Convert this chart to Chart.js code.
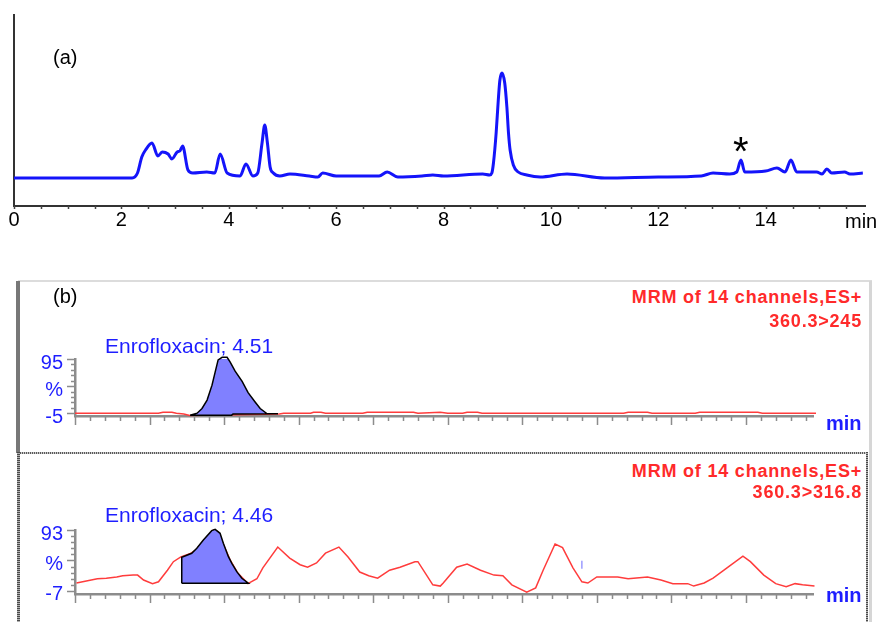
<!DOCTYPE html>
<html>
<head>
<meta charset="utf-8">
<script src="https://cdn.jsdelivr.net/npm/chart.js@4.4.1/dist/chart.umd.min.js"></script>
<style>
  body { margin: 0; background: #fff; }
  #wrap { position: relative; width: 877px; height: 622px; overflow: hidden; font-family: Arial, "Liberation Sans", sans-serif; }
  canvas, .txt, .line { position: absolute; }
  .txt { white-space: nowrap; line-height: 1; }
  .blue { color: #1e1eff; }
  .red { color: #ff2a2a; font-weight: bold; font-size: 18px; letter-spacing: 0.8px; text-align: right; right: 15px; }
  .dotH { height: 2px; background: repeating-linear-gradient(90deg, #5a5a5a 0 1px, #c8c8c8 1px 2px); }
  .dotV { background: repeating-linear-gradient(180deg, #4a4a4a 0 1px, #b0b0b0 1px 2px); }
</style>
</head>
<body>
<div id="wrap">
  <!-- frame of panel (b) -->
  <div class="line" style="left:18px;top:280px;width:854px;height:0;border-top:2px solid #dcdcdc"></div>
  <div class="line" style="left:869px;top:281px;width:3px;height:341px;background:#d6d6d6"></div>
  <div class="line" style="left:16px;top:281px;width:4px;height:172px;background:#777"></div>
  <div class="line dotH" style="left:20px;top:452px;width:848px"></div>
  <div class="line dotV" style="left:17px;top:452px;width:3px;height:170px"></div>
  <div class="line dotV" style="left:866px;top:452px;width:2px;height:170px"></div>

  <canvas id="chartA" width="877" height="245" style="left:0;top:0"></canvas>
  <canvas id="chartB1" width="877" height="110" style="left:0;top:330px"></canvas>
  <canvas id="chartB2" width="877" height="118" style="left:0;top:500px"></canvas>

  <div class="txt" style="left:53px;top:47px;font-size:20px">(a)</div>
  <div class="txt" style="left:733px;top:131px;font-size:40px">*</div>
  <div class="txt" style="left:845px;top:211px;font-size:20px">min</div>

  <div class="txt" style="left:53px;top:286px;font-size:20px">(b)</div>
  <div class="txt blue" style="left:105px;top:335px;font-size:21px">Enrofloxacin; 4.51</div>
  <div class="txt red" style="top:288px">MRM of 14 channels,ES+</div>
  <div class="txt red" style="top:312px">360.3&gt;245</div>
  <div class="txt blue" style="left:826px;top:413px;font-size:20px;font-weight:bold">min</div>

  <div class="txt blue" style="left:105px;top:504px;font-size:21px">Enrofloxacin; 4.46</div>
  <div class="txt red" style="top:462px">MRM of 14 channels,ES+</div>
  <div class="txt red" style="top:483px">360.3&gt;316.8</div>
  <div class="txt blue" style="left:826px;top:585px;font-size:20px;font-weight:bold">min</div>
</div>

<script>
// (a) UV chromatogram
const aTime = [0, 2.2, 2.3, 2.38, 2.45, 2.57, 2.68, 2.76, 2.87, 2.94, 3.04, 3.09, 3.14, 3.24, 3.33, 3.59, 3.74, 3.84, 3.97,
  4.21, 4.32, 4.45, 4.54, 4.62, 4.67, 4.72, 4.77, 4.83, 4.95, 5.14, 5.5, 5.66, 5.75, 6.0, 6.8, 6.95, 7.15, 7.6, 7.8, 8.0,
  8.73, 8.86, 8.90, 8.93, 8.98, 9.02, 9.05, 9.09, 9.14, 9.18, 9.21, 9.24, 9.30, 9.39, 9.55, 9.8, 10.3, 11.0, 12.0, 12.8,
  13.02, 13.33, 13.46, 13.54, 13.61, 14.0, 14.21, 14.36, 14.47, 14.58, 14.95, 15.05, 15.14, 15.23, 15.47, 15.57, 15.81];
const aSignal = [28, 28, 33, 49, 56, 63, 50, 54, 52, 47, 54, 55, 60, 36, 33, 34, 33, 52, 33,
  30, 42, 30, 33, 63, 81, 63, 39, 33, 30, 32, 30, 29, 33, 30, 30, 34, 29, 30, 31, 30,
  32, 31, 33, 43, 73, 106, 126, 133, 123, 99, 73, 56, 41, 34, 31, 29, 32, 28, 29, 30,
  33, 32, 34, 46, 34, 35, 38, 34, 46, 34, 34, 32, 37, 33, 34, 32, 33];
const aTickLabels = [0, 2, 4, 6, 8, 10, 12, 14];

// (b) MRM 360.3>245
const b1Time = [3.5, 4.06, 4.09, 4.15, 4.18, 4.23, 4.27, 4.87, 4.90, 5.08, 5.10, 5.15, 5.18, 5.43, 5.46, 5.77, 5.80,
  5.95, 6.00, 6.10, 6.13, 6.20, 6.23, 7.18, 7.21, 7.34, 7.37, 7.66, 7.69, 8.08, 8.11, 8.47];
const b1Value = [-5, -5, -3, -3, -5, -6.5, -9, -6.5, -5, -5, -3, -3, -5, -5, -3, -3, -5,
  -3, -5, -5, -3, -3, -5, -5, -3, -3, -5, -5, -3, -3, -5, -5];
const b1PeakTime = [4.272, 4.319, 4.352, 4.386, 4.419, 4.440, 4.460, 4.487, 4.520, 4.540, 4.574, 4.621, 4.661, 4.708,
  4.742, 4.789, 4.862, 4.56, 4.55, 4.272];
const b1PeakValue = [-8.5, -4.8, 3.8, 19.3, 46.8, 70.9, 93.3, 98, 98, 89.8, 72.6, 53.7, 33.0, 15.8,
  3.8, -6.0, -6.0, -6.5, -8.5, -8.5];
const b1YTicks = [95, 45, -5];
const b1YLabels = ['95', '%', '-5'];

// (b) MRM 360.3>316.8
const b2Time = [3.51, 3.65, 3.71, 3.78, 3.82, 3.89, 3.92, 3.96, 4.02, 4.06, 4.12, 4.16, 4.21, 4.27, 4.31, 4.36, 4.43,
  4.46, 4.49, 4.54, 4.59, 4.66, 4.72, 4.76, 4.86, 4.94, 5.01, 5.06, 5.12, 5.18, 5.27, 5.33, 5.41, 5.47, 5.53, 5.61,
  5.68, 5.78, 5.80, 5.90, 5.95, 5.97, 6.06, 6.13, 6.22, 6.31, 6.37, 6.43, 6.53, 6.59, 6.64, 6.72, 6.77, 6.84, 6.90,
  6.94, 7.00, 7.14, 7.21, 7.34, 7.43, 7.51, 7.61, 7.65, 7.72, 7.78, 7.88, 7.98, 8.03, 8.12, 8.20, 8.27, 8.33, 8.38, 8.46];
const b2Value = [6, 13, 14, 16, 18, 19, 19, 11, 5, 8, 27, 41, 49, 54, 60, 75, 93,
  90, 72, 44, 23, 5, 13, 31, 65, 47, 36, 32, 39, 55, 65, 49, 24, 18, 14, 27,
  32, 41, 41, 3, 1, 6, 32, 37, 27, 19, 18, 3, -9, -2, 27, 70, 64, 31, 8,
  6, 16, 16, 13, 16, 11, 5, 5, 1, 6, 14, 32, 50, 41, 19, 5, 0, 5, 3, 1];
const b2PeakTime = [4.216, 4.216, 4.283, 4.317, 4.361, 4.417, 4.440, 4.473, 4.495, 4.529, 4.552, 4.585, 4.619, 4.663, 4.216];
const b2PeakValue = [5.6, 48.2, 54.8, 63.0, 76.6, 91.9, 94.1, 87.6, 71.2, 49.2, 38.4, 24.6, 13.8, 5.6, 5.6];
const b2MarkTime = [6.90];
const b2MarkValue = [36];
const b2YTicks = [93, 43, -7];
const b2YLabels = ['93', '%', '-7'];

const toXY = (xs, ys) => xs.map((x, i) => ({ x: x, y: ys[i] }));

// small tick marks under / beside the axes
const tickMarks = {
  id: 'tickMarks',
  afterDraw(chart, args, opts) {
    const { ctx, chartArea, scales } = chart;
    ctx.save();
    ctx.strokeStyle = opts.color;
    ctx.lineWidth = opts.width;
    ctx.beginPath();
    (opts.x || []).forEach(([v, len]) => {
      const px = Math.round(scales.x.getPixelForValue(v)) + 0.5;
      ctx.moveTo(px, chartArea.bottom);
      ctx.lineTo(px, chartArea.bottom + len);
    });
    (opts.y || []).forEach(([v, len]) => {
      const py = Math.round(scales.y.getPixelForValue(v)) + 0.5;
      ctx.moveTo(chartArea.left, py);
      ctx.lineTo(chartArea.left - len, py);
    });
    ctx.stroke();
    ctx.restore();
  }
};

Chart.defaults.font.family = 'Arial, "Liberation Sans", sans-serif';

const aXTicks = [];
for (let i = 0; i <= 31; i++) aXTicks.push([i / 2, 3]);

new Chart(document.getElementById('chartA'), {
  type: 'line',
  data: {
    datasets: [{
      data: toXY(aTime, aSignal),
      borderColor: 'rgb(20,20,250)',
      borderWidth: 3,
      pointRadius: 0,
      cubicInterpolationMode: 'monotone',
      fill: false
    }]
  },
  options: {
    responsive: false,
    animation: false,
    events: [],
    layout: { padding: { top: 15, right: 12, left: 0, bottom: 0 } },
    plugins: {
      legend: { display: false },
      tooltip: { enabled: false },
      tickMarks: { color: '#444', width: 1.5, x: aXTicks }
    },
    scales: {
      x: {
        type: 'linear', min: 0, max: 15.85,
        afterFit: (s) => { s.height = 39; },
        afterBuildTicks: (s) => { s.ticks = aTickLabels.map((v) => ({ value: v })); },
        grid: { display: false, drawTicks: false },
        border: { color: '#333', width: 2 },
        ticks: { font: { size: 20 }, color: '#000', padding: 2, maxRotation: 0, autoSkip: false }
      },
      y: {
        min: 0, max: 191,
        afterFit: (s) => { s.width = 14; },
        grid: { display: false, drawTicks: false },
        border: { color: '#333', width: 2 },
        ticks: { display: false }
      }
    }
  },
  plugins: [tickMarks]
});

function mrmChart(id, cfg) {
  const xTicks = [];
  for (let i = 35; i <= 84; i++) xTicks.push([i / 10, i % 5 === 0 ? 9 : 5]);
  const yTicks = [];
  for (let v = cfg.yTicks[2]; v <= cfg.yTicks[0]; v += 10) {
    yTicks.push([v, cfg.yTicks.includes(v) ? 8 : 4]);
  }
  return new Chart(document.getElementById(id), {
    type: 'line',
    data: {
      datasets: [{
        data: toXY(cfg.peakTime, cfg.peakValue),
        borderColor: '#000',
        backgroundColor: '#8080ff',
        borderWidth: 1.5,
        pointRadius: 0,
        fill: 'shape',
        clip: false
      }, {
        data: toXY(cfg.markTime || [], cfg.markValue || []),
        showLine: false,
        pointStyle: 'line',
        rotation: 90,
        pointRadius: 4,
        pointBorderColor: '#6a6aff',
        pointBorderWidth: 1
      }, {
        data: toXY(cfg.time, cfg.value),
        borderColor: '#ff3c3c',
        borderWidth: 1.5,
        pointRadius: 0,
        fill: false,
        clip: false
      }]
    },
    options: {
      responsive: false,
      animation: false,
      events: [],
      layout: { padding: { top: cfg.top, right: 64, left: 0, bottom: 0 } },
      plugins: {
        legend: { display: false },
        tooltip: { enabled: false },
        tickMarks: { color: '#8c8c8c', width: 1.5, x: xTicks, y: yTicks }
      },
      scales: {
        x: {
          type: 'linear', min: 3.5, max: 8.45,
          afterFit: (s) => { s.height = cfg.axisH; },
          grid: { display: false, drawTicks: false },
          border: { color: '#8c8c8c', width: 2.5 },
          ticks: { display: false }
        },
        y: {
          min: cfg.yMin, max: cfg.yTicks[0],
          afterFit: (s) => { s.width = 75; },
          afterBuildTicks: (s) => { s.ticks = cfg.yTicks.map((v) => ({ value: v })); },
          grid: { display: false, drawTicks: false },
          border: { color: '#8c8c8c', width: 2.5 },
          ticks: {
            font: { size: 20 }, color: '#1e1eff', padding: 12, labelOffset: 4,
            callback: (v) => cfg.yLabels[cfg.yTicks.indexOf(v)]
          }
        }
      }
    },
    plugins: [tickMarks]
  });
}

mrmChart('chartB1', {
  time: b1Time, value: b1Value, peakTime: b1PeakTime, peakValue: b1PeakValue,
  yTicks: b1YTicks, yLabels: b1YLabels, yMin: -10, top: 29, axisH: 20
});
mrmChart('chartB2', {
  time: b2Time, value: b2Value, peakTime: b2PeakTime, peakValue: b2PeakValue,
  markTime: b2MarkTime, markValue: b2MarkValue,
  yTicks: b2YTicks, yLabels: b2YLabels, yMin: -12, top: 30, axisH: 24
});
</script>
</body>
</html>
